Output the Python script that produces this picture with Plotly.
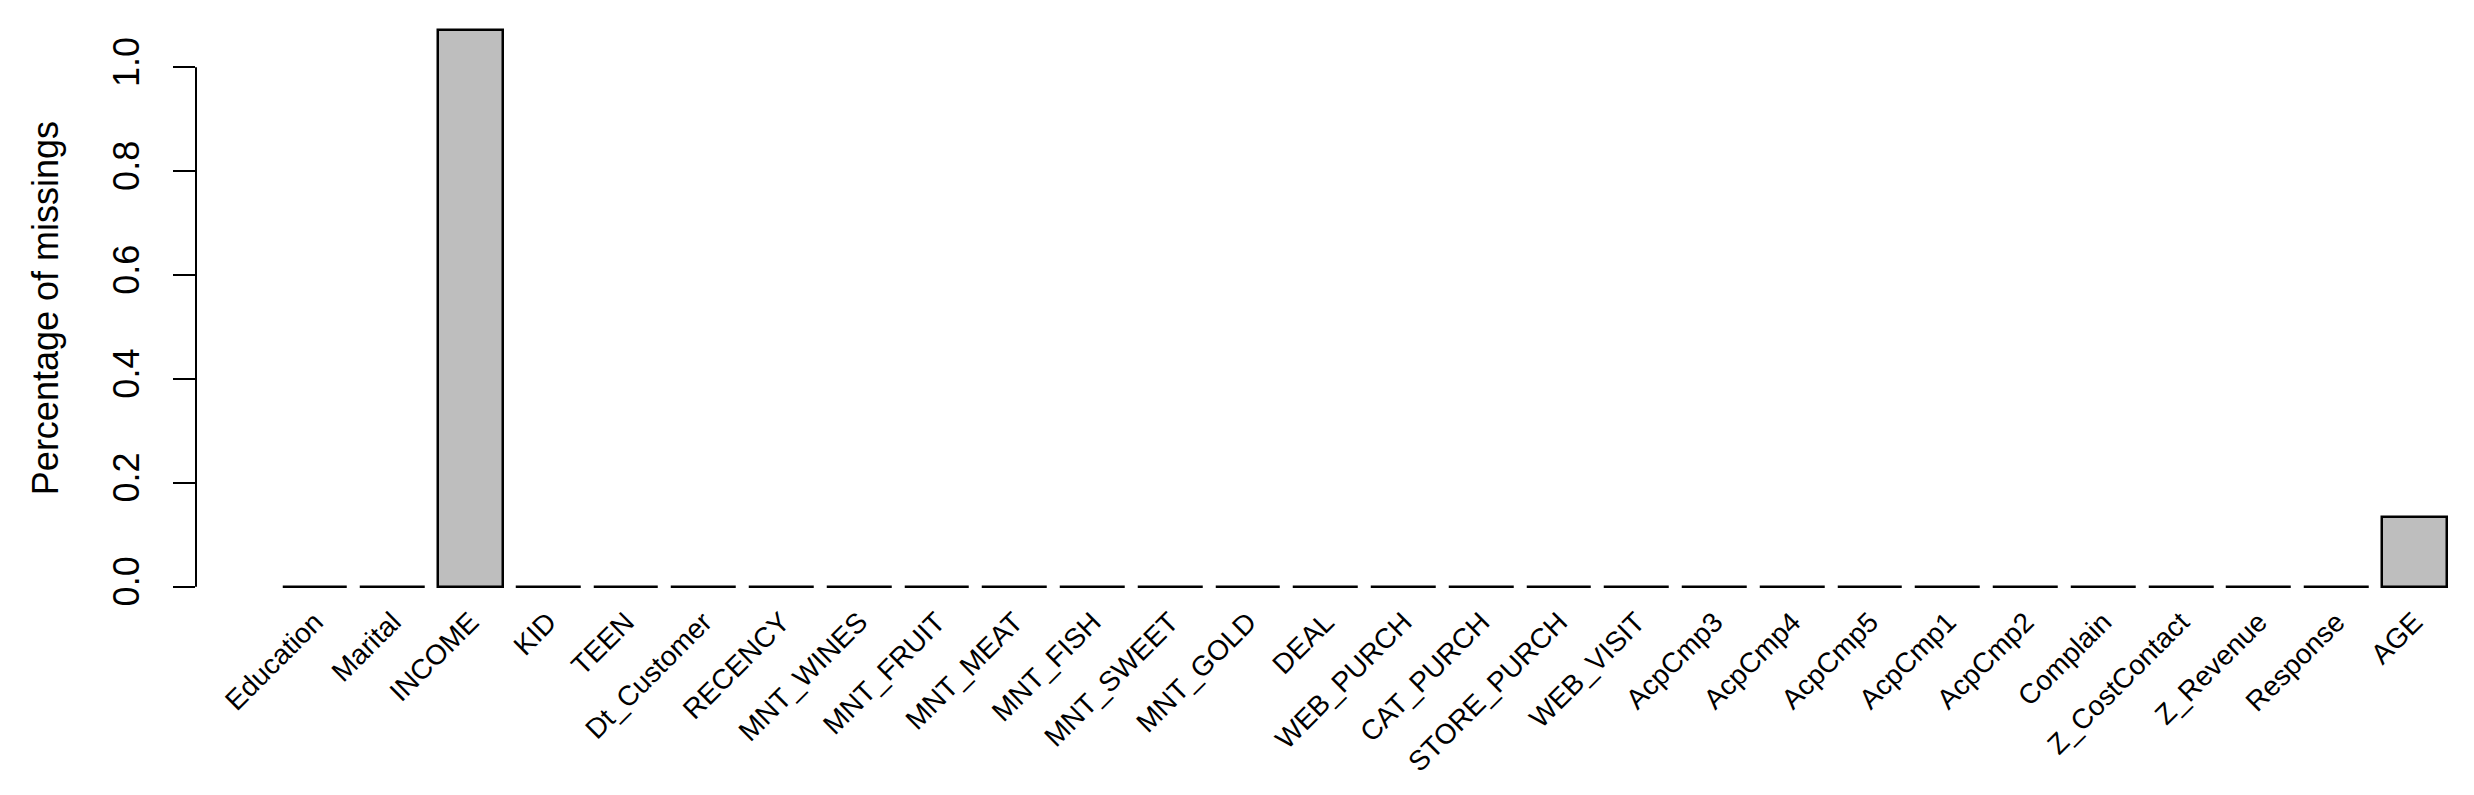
import plotly.graph_objects as go

# share of missing values per variable (in %)
variables = ['Education', 'Marital', 'INCOME', 'KID', 'TEEN', 'Dt_Customer', 'RECENCY',
             'MNT_WINES', 'MNT_FRUIT', 'MNT_MEAT', 'MNT_FISH', 'MNT_SWEET', 'MNT_GOLD',
             'DEAL', 'WEB_PURCH', 'CAT_PURCH', 'STORE_PURCH', 'WEB_VISIT', 'AcpCmp3',
             'AcpCmp4', 'AcpCmp5', 'AcpCmp1', 'AcpCmp2', 'Complain', 'Z_CostContact',
             'Z_Revenue', 'Response', 'AGE']
pct_missing = [0, 0, 1.071, 0, 0, 0, 0, 0, 0, 0, 0, 0, 0, 0, 0, 0, 0, 0, 0, 0, 0, 0, 0,
               0, 0, 0, 0, 0.134]
y_ticks = [0.0, 0.2, 0.4, 0.6, 0.8, 1.0]

# barplot-like positions: width 1, space 0.2
bar_pos = [0.7 + 1.2 * i for i in range(len(variables))]

FONT = "Liberation Sans, Arial, sans-serif"

fig = go.Figure()
fig.add_trace(go.Bar(
    x=bar_pos, y=pct_missing, width=1,
    marker_color='#BEBEBE',
    marker_line_color='black', marker_line_width=2.5,
    hoverinfo='x+y'
))

# y axis line only spans the tick range
fig.add_shape(type='line', xref='paper', yref='y',
              x0=0, x1=0, y0=min(y_ticks), y1=max(y_ticks),
              line=dict(color='black', width=2))

fig.add_annotation(text='Percentage of missings', xref='paper', yref='paper',
                   x=-0.066, y=0.5, xanchor='center', yanchor='middle',
                   textangle=-90, showarrow=False,
                   font=dict(family=FONT, size=36, color='black'))

# page body has an 8px margin, so the figure is a bit smaller than the window
fig.update_layout(
    width=2466, height=787,
    margin=dict(l=188, r=0, t=0, b=186),
    plot_bgcolor='white', paper_bgcolor='white',
    showlegend=False,
    bargap=0,
    font=dict(family=FONT, color='black'),
    xaxis=dict(range=[-1.136, 34.02], tickvals=bar_pos, ticktext=variables,
               tickangle=-45, ticks='', showline=False, showgrid=False,
               zeroline=False, tickfont=dict(size=28), ticklabelstandoff=-10),
    yaxis=dict(range=[-0.04286, 1.11429], tickvals=y_ticks,
               ticktext=['%.1f' % v for v in y_ticks], tickangle=-90,
               ticks='outside', ticklen=22, tickwidth=2, tickcolor='black',
               showline=False, showgrid=False, zeroline=False,
               tickfont=dict(size=36), ticklabelstandoff=20),
)

fig.write_html("out.html")
